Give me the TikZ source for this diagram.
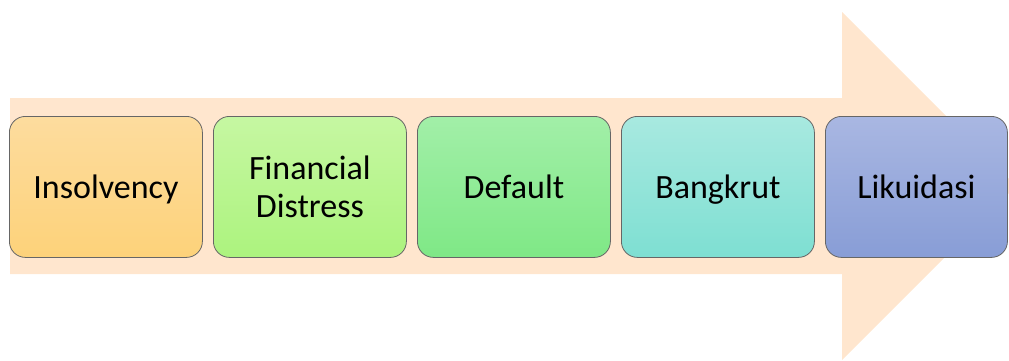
\documentclass[tikz,border=0pt]{standalone}
\usepackage{fontspec}
\setmainfont{Carlito}
\newcommand\labelstrut{\rule[-6pt]{0pt}{36pt}}
\begin{document}
\begin{tikzpicture}[x=1pt,y=-1pt,
  stage/.style={draw=black!60, line width=0.8pt, rounded corners=16pt,
    minimum width=193pt, minimum height=141pt, inner sep=0pt,
    align=center, font=\fontsize{34}{38}\selectfont, anchor=north west},
]
\definecolor{arrowfill}{HTML}{FFE6CE}
\definecolor{insA}{HTML}{FDDC9E}\definecolor{insB}{HTML}{FDD27A}
\definecolor{finA}{HTML}{C6F7A2}\definecolor{finB}{HTML}{ACF37E}
\definecolor{defA}{HTML}{A2EFA8}\definecolor{defB}{HTML}{7FE886}
\definecolor{banA}{HTML}{A8E9E0}\definecolor{banB}{HTML}{7EDFD2}
\definecolor{likA}{HTML}{A9B7E2}\definecolor{likB}{HTML}{889DD6}
\useasboundingbox (0,0) rectangle (1009,360);
\begin{scope}
\clip (0,0) rectangle (1009,360);
% big process arrow behind the stages
\fill[arrowfill] (10,98) -- (842,98) -- (842,12) -- (1016,186) -- (842,360)
  -- (842,274) -- (10,274) -- cycle;
\end{scope}
% stages
\node[stage, top color=insA, bottom color=insB] (s1) at (9,116) {\labelstrut Insolvency};
\node[stage, top color=finA, bottom color=finB] (s2) at (213,116) {\labelstrut Financial\\Distress\labelstrut};
\node[stage, top color=defA, bottom color=defB] (s3) at (417,116) {\labelstrut Default};
\node[stage, top color=banA, bottom color=banB] (s4) at (621,116) {\labelstrut Bangkrut};
\node[stage, top color=likA, bottom color=likB, minimum width=182pt] (s5) at (825,116) {\labelstrut Likuidasi};
\end{tikzpicture}
\end{document}
